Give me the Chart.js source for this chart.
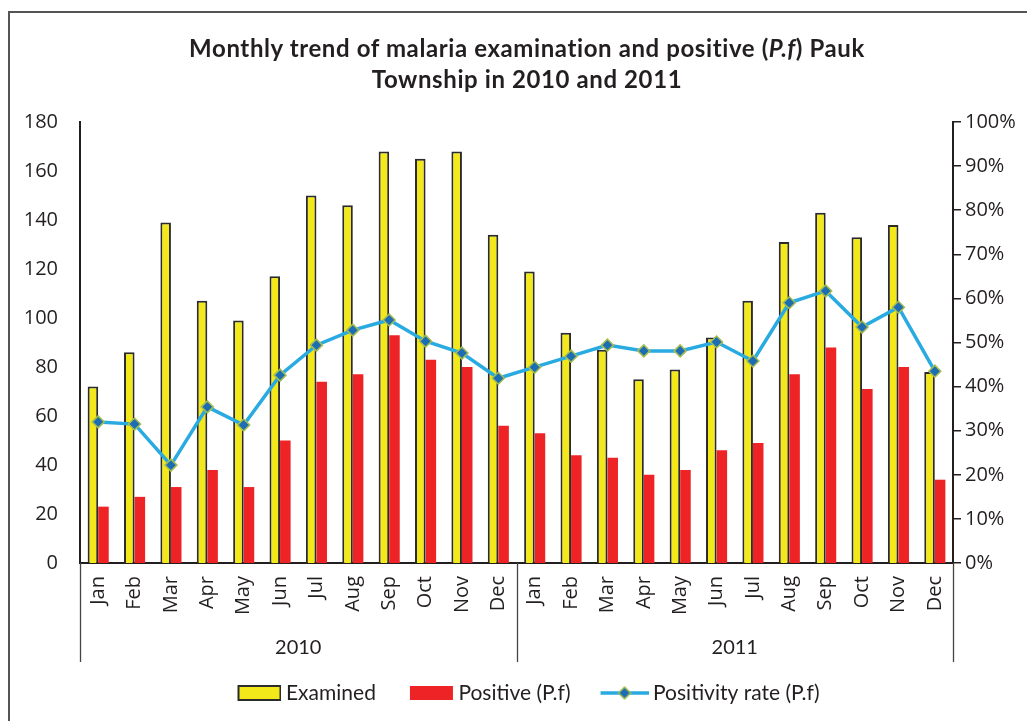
<!DOCTYPE html>
<html>
<head>
<meta charset="utf-8">
<script src="https://cdn.jsdelivr.net/npm/chart.js@4.4.1/dist/chart.umd.min.js"></script>
<style>
  body { margin: 0; background: #fff; }
  #wrap { position: relative; width: 1027px; height: 721px; overflow: hidden; }
  #title {
    position: absolute; left: 0; top: 32px; width: 1054px;
    text-align: center; color: #231f20;
    font: bold 24px Lato, 'Open Sans', sans-serif;
    letter-spacing: 0.6px;
    line-height: 31px;
  }
</style>
</head>
<body>
<div id="wrap">
  <canvas id="malariaChart" width="1027" height="721"></canvas>
  <div id="title">Monthly trend of malaria examination and positive (<i>P.f</i>) Pauk<br>Township in 2010 and 2011</div>
</div>
<script>
// Months (two years side by side) and year group labels
const months = ["Jan", "Feb", "Mar", "Apr", "May", "Jun", "Jul", "Aug", "Sep", "Oct", "Nov", "Dec"];
const monthLabels = [...months, ...months];
const years = ["2010", "2011"];

// Values
const examined = [72, 86, 139, 107, 99, 117, 150, 146, 168, 165, 168, 134,
                  119, 94, 87, 75, 79, 92, 107, 131, 143, 133, 138, 78];
const positive = [23, 27, 31, 38, 31, 50, 74, 77, 93, 83, 80, 56,
                  53, 44, 43, 36, 38, 46, 49, 77, 88, 71, 80, 34];
const positivityRate = [32.0, 31.5, 22.2, 35.4, 31.3, 42.6, 49.4, 52.8, 55.1, 50.3, 47.6, 41.9,
                        44.4, 46.9, 49.4, 48.1, 48.1, 50.1, 45.8, 59.0, 61.7, 53.5, 58.0, 43.5];

const ink = "#231f20";
const humanist = "Lato, 'Open Sans', sans-serif";
const tickFamily = "'Open Sans', sans-serif";
const yellow = "#f2e81a";
const red = "#ee2326";
const blue = "#29abe2";

// small canvases used as legend symbols (content sits at the right so the text gap stays tight)
function icon(draw) {
    const c = document.createElement("canvas");
    c.width = 56; c.height = 16;
    draw(c.getContext("2d"));
    return c;
}
const legendIcons = [
    icon(g => { g.fillStyle = yellow; g.fillRect(13, 1, 42, 14); g.strokeStyle = "#2b2b2b"; g.lineWidth = 2; g.strokeRect(13, 1, 42, 14); }),
    icon(g => { g.fillStyle = red; g.fillRect(12, 1, 43, 14); }),
    icon(g => {
        g.strokeStyle = blue; g.lineWidth = 3.5;
        g.beginPath(); g.moveTo(8, 8); g.lineTo(56, 8); g.stroke();
        g.beginPath(); g.moveTo(32, 2); g.lineTo(38, 8); g.lineTo(32, 14); g.lineTo(26, 8); g.closePath();
        g.fillStyle = "#1c6db4"; g.fill(); g.strokeStyle = "#a5bd50"; g.lineWidth = 1.5; g.stroke();
    })
];

// outer frame of the chart
const framePlugin = {
    id: "frame",
    beforeDraw(chart) {
        const c = chart.ctx;
        c.save();
        c.strokeStyle = "#555";
        c.lineWidth = 2;
        c.strokeRect(9, 12, 1100, 800);
        c.restore();
    }
};

// nudge the legend a little to the right, as in the original
const legendShift = {
    id: "legendShift",
    afterLayout(chart) {
        chart.legend.left += 12;
        chart.legend.right += 12;
    }
};

// second level of the category axis: year labels and dividers
const yearPlugin = {
    id: "years",
    afterDraw(chart) {
        const c = chart.ctx, x = chart.scales.x, area = chart.chartArea;
        const per = months.length;
        const bounds = [area.left];
        years.forEach((y, i) => {
            const end = (i + 1) * per - 1;
            bounds.push(end + 1 < monthLabels.length
                ? (x.getPixelForValue(end) + x.getPixelForValue(end + 1)) / 2
                : area.right);
        });
        c.save();
        c.strokeStyle = "#444";
        c.lineWidth = 1.3;
        bounds.forEach(b => {
            c.beginPath();
            c.moveTo(Math.round(b) + 0.5, area.bottom);
            c.lineTo(Math.round(b) + 0.5, area.bottom + 99);
            c.stroke();
        });
        c.fillStyle = ink;
        c.font = "20px " + humanist;
        c.textAlign = "center";
        c.textBaseline = "middle";
        years.forEach((y, i) => {
            c.fillText(y, (bounds[i] + bounds[i + 1]) / 2, area.bottom + 85);
        });
        c.restore();
    }
};

function renderChart() {
    const ctx = document.getElementById("malariaChart").getContext("2d");
    new Chart(ctx, {
        type: "bar",
        data: {
            labels: monthLabels,
            datasets: [
                { label: "Examined", data: examined, backgroundColor: yellow, borderColor: "#2b2b2b", borderWidth: 2, yAxisID: "y", order: 2 },
                { label: "Positive (P.f)", data: positive, backgroundColor: red, borderWidth: 0, yAxisID: "y", order: 2 },
                {
                    type: "line", label: "Positivity rate (P.f)", data: positivityRate, yAxisID: "y1", order: 1,
                    borderColor: blue, borderWidth: 3.5, tension: 0,
                    pointStyle: "rectRot", pointRadius: 6,
                    pointBackgroundColor: "#1c6db4", pointBorderColor: "#a5bd50", pointBorderWidth: 1.5
                }
            ]
        },
        options: {
            responsive: false,
            animation: false,
            layout: { padding: { top: 122, left: 0, right: 0, bottom: 7.5 } },
            datasets: { bar: { categoryPercentage: 0.58, barPercentage: 1.0 } },
            plugins: {
                tooltip: { enabled: false },
                legend: {
                    position: "bottom",
                    labels: {
                        usePointStyle: true,
                        pointStyleWidth: 44,
                        boxHeight: 16,
                        padding: 28,
                        color: ink,
                        font: { family: humanist, size: 21 },
                        generateLabels: chart => chart.data.datasets.map((ds, i) => ({
                            text: ds.label, pointStyle: legendIcons[i], datasetIndex: i,
                            fontColor: ink, lineWidth: 0, hidden: false
                        }))
                    }
                }
            },
            scales: {
                x: {
                    grid: { display: false, drawTicks: false },
                    border: { display: true, color: ink, width: 2 },
                    ticks: {
                        autoSkip: false, minRotation: 90, maxRotation: 90,
                        padding: 13, color: ink,
                        font: { family: tickFamily, size: 20 }
                    },
                    afterFit(s) { s.height = 91.5; }
                },
                y: {
                    position: "left",
                    min: 0, max: 180,
                    grid: { display: false, drawTicks: false },
                    border: { display: true, color: ink, width: 2 },
                    ticks: { stepSize: 20, padding: 22, color: ink, font: { family: tickFamily, size: 20 } },
                    afterFit(s) { s.width = 80; }
                },
                y1: {
                    position: "right",
                    min: 0, max: 100,
                    grid: { display: true, drawOnChartArea: false, drawTicks: true, tickLength: 8, color: ink, lineWidth: 1.5 },
                    border: { display: true, color: ink, width: 2 },
                    ticks: { stepSize: 10, padding: 4, color: ink, callback: v => v + "%", font: { family: tickFamily, size: 20 } },
                    afterFit(s) { s.width = 74; }
                }
            }
        },
        plugins: [framePlugin, legendShift, yearPlugin]
    });
}

document.addEventListener("DOMContentLoaded", renderChart);
</script>
</body>
</html>
